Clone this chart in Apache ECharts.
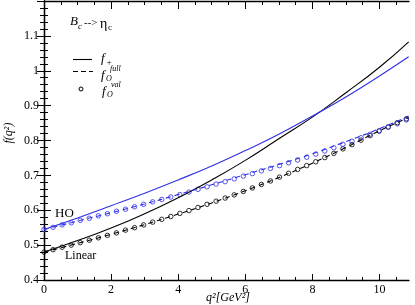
<!DOCTYPE html>
<html>
<head>
<meta charset="utf-8">
<script src="https://cdn.jsdelivr.net/npm/echarts@6/dist/echarts.min.js"></script>
<style>html,body{margin:0;padding:0;background:#fff}#c{width:415px;height:305px}</style>
</head>
<body>
<div id="c"></div>
<script>
// ---- data ----
const X_MAX = 10.88;
const xMajorTicks = [0, 2, 4, 6, 8, 10];
const xMinorTicks = [0.5, 1, 1.5, 2.5, 3, 3.5, 4.5, 5, 5.5, 6.5, 7, 7.5, 8.5, 9, 9.5, 10.5];
const yTickLabels = ['0.4', '0.5', '0.6', '0.7', '0.8', '0.9', '1', '1.1'];

// smooth curves sampled at q^2
const qLine = [0, 1, 2, 3, 4, 5, 6, 7, 8, 9, 10, 10.87];
const fPlusLinear = [0.480, 0.513, 0.549, 0.590, 0.636, 0.687, 0.743, 0.805, 0.867, 0.937, 1.010, 1.083];
const fPlusHO     = [0.545, 0.578, 0.613, 0.649, 0.687, 0.727, 0.771, 0.818, 0.870, 0.925, 0.985, 1.040];
const f0FullLinear = [0.480, 0.505, 0.531, 0.559, 0.589, 0.621, 0.656, 0.694, 0.735, 0.780, 0.828, 0.866];
const f0FullHO     = [0.545, 0.569, 0.593, 0.618, 0.645, 0.673, 0.702, 0.731, 0.762, 0.797, 0.834, 0.870];

// open-circle points
const qPts = [0.00, 0.27, 0.54, 0.81, 1.08, 1.35, 1.62, 1.89, 2.16, 2.43, 2.70, 2.97, 3.24, 3.51, 3.78, 4.05, 4.32, 4.59, 4.86, 5.13, 5.40, 5.67, 5.94, 6.21, 6.48, 6.75, 7.02, 7.29, 7.56, 7.83, 8.10, 8.37, 8.64, 8.91, 9.18, 9.45, 9.72, 9.99, 10.26, 10.53, 10.80];
const f0ValLinear = [0.480, 0.487, 0.494, 0.500, 0.507, 0.514, 0.521, 0.528, 0.535, 0.543, 0.550, 0.558, 0.566, 0.574, 0.582, 0.591, 0.599, 0.608, 0.617, 0.626, 0.635, 0.644, 0.654, 0.664, 0.674, 0.684, 0.695, 0.706, 0.717, 0.728, 0.739, 0.751, 0.763, 0.776, 0.788, 0.801, 0.814, 0.827, 0.839, 0.851, 0.862];
const f0ValHO     = [0.545, 0.551, 0.558, 0.564, 0.571, 0.577, 0.584, 0.590, 0.597, 0.603, 0.610, 0.617, 0.624, 0.631, 0.638, 0.645, 0.652, 0.660, 0.667, 0.675, 0.682, 0.690, 0.698, 0.705, 0.713, 0.720, 0.728, 0.736, 0.744, 0.752, 0.761, 0.770, 0.779, 0.789, 0.798, 0.808, 0.818, 0.828, 0.838, 0.848, 0.859];

// ---- chart ----
const BLUE = '#2f2fe6';
const SERIF = 'Liberation Serif';
const pair = (xs, ys) => xs.map((x, i) => [x, ys[i]]);

function xAx(position, ticks, len, withLabel, showLine) {
  return {
    type: 'value', position: position, min: 0, max: X_MAX,
    axisLine: { show: showLine, lineStyle: { color: '#000', width: 1.3 } },
    axisTick: { show: true, inside: true, length: len, customValues: ticks, lineStyle: { color: '#000', width: 1 } },
    axisLabel: withLabel ? { show: true, customValues: xMajorTicks, margin: 4, color: '#000', fontFamily: SERIF, fontSize: 12 } : { show: false },
    splitLine: { show: false }
  };
}
function yAx(position, withLabel) {
  return {
    type: 'value', position: position, min: 0.4, max: 1.2, interval: 0.1,
    axisLine: { show: true, lineStyle: { color: '#000', width: 1.3 } },
    axisTick: { show: true, inside: true, length: 7, lineStyle: { color: '#000', width: 1 } },
    minorTick: { show: true, splitNumber: 5, length: 4, lineStyle: { color: '#000', width: 1 } },
    axisLabel: withLabel ? {
      show: true, margin: 5, color: '#000', fontFamily: SERIF, fontSize: 12,
      formatter: function (v) {
        const idx = Math.round((v - 0.4) * 10);
        return (idx >= 0 && idx < yTickLabels.length) ? yTickLabels[idx] : '';
      }
    } : { show: false },
    splitLine: { show: false }, minorSplitLine: { show: false }
  };
}

const chart = echarts.init(document.getElementById('c'), null, { renderer: 'canvas' });
const txt = (x, y, text, size, opts) => Object.assign({
  type: 'text', x: x, y: y,
  style: Object.assign({ text: text, fill: '#000', font: (opts && opts.italic ? 'italic ' : '') + size + 'px "' + SERIF + '"', textVerticalAlign: 'middle' }, opts && opts.style)
}, opts && opts.extra);

chart.setOption({
  animation: false,
  backgroundColor: '#fff',
  grid: { left: 44, right: 6, top: 1, bottom: 25 },
  xAxis: [
    xAx('bottom', xMajorTicks, 6, true, true),
    xAx('bottom', xMinorTicks, 3, false, false),
    xAx('top', xMajorTicks, 8, false, true),
    xAx('top', xMinorTicks, 4, false, false)
  ],
  yAxis: [yAx('left', true), yAx('right', false)],
  series: [
    { type: 'line', name: 'f+ linear', data: pair(qLine, fPlusLinear), smooth: true, showSymbol: false, lineStyle: { color: '#000', width: 1.1 }, xAxisIndex: 0, yAxisIndex: 0 },
    { type: 'line', name: 'f+ HO', data: pair(qLine, fPlusHO), smooth: true, showSymbol: false, lineStyle: { color: BLUE, width: 1.1 }, xAxisIndex: 0, yAxisIndex: 0 },
    { type: 'line', name: 'f0 full linear', data: pair(qLine, f0FullLinear), smooth: true, showSymbol: false, lineStyle: { color: '#000', width: 1.1, type: [5, 4] }, xAxisIndex: 0, yAxisIndex: 0 },
    { type: 'line', name: 'f0 full HO', data: pair(qLine, f0FullHO), smooth: true, showSymbol: false, lineStyle: { color: BLUE, width: 1.1, type: [5, 4] }, xAxisIndex: 0, yAxisIndex: 0 },
    { type: 'scatter', name: 'f0 val linear', data: pair(qPts, f0ValLinear), symbol: 'circle', symbolSize: 4.5, itemStyle: { color: 'rgba(0,0,0,0)', borderColor: '#000', borderWidth: 1 }, xAxisIndex: 0, yAxisIndex: 0 },
    { type: 'scatter', name: 'f0 val HO', data: pair(qPts, f0ValHO), symbol: 'circle', symbolSize: 4.5, itemStyle: { color: 'rgba(0,0,0,0)', borderColor: BLUE, borderWidth: 1 }, xAxisIndex: 0, yAxisIndex: 0 }
  ],
  graphic: [
    // title  B_c --> eta_c
    txt(70, 22, 'B', 13, { italic: true }),
    txt(78, 27, 'c', 9, { italic: true }),
    txt(84, 23, '-->', 11),
    txt(100, 24, 'η', 14),
    txt(108, 28, 'c', 9),
    // legend keys
    { type: 'line', shape: { x1: 73, y1: 59.5, x2: 92, y2: 59.5 }, style: { stroke: '#000', lineWidth: 1.1 } },
    { type: 'line', shape: { x1: 73, y1: 71.5, x2: 93, y2: 71.5 }, style: { stroke: '#000', lineWidth: 1.1, lineDash: [5, 3] } },
    { type: 'circle', shape: { cx: 81, cy: 89, r: 2 }, style: { stroke: '#000', fill: 'none', lineWidth: 1 } },
    // legend labels
    txt(101, 59, 'f', 13, { italic: true }),
    txt(106, 63, '+', 9, { italic: true }),
    txt(101, 76, 'f', 13, { italic: true }),
    txt(106, 79, 'O', 8, { italic: true }),
    txt(110, 69, 'full', 8, { italic: true }),
    txt(102, 92, 'f', 13, { italic: true }),
    txt(107, 95, 'O', 8, { italic: true }),
    txt(111, 85, 'val', 8, { italic: true }),
    // curve annotations
    txt(55, 214, 'HO', 13),
    txt(65, 256, 'Linear', 12),
    // axis names
    txt(9, 133, 'f(q²)', 12, { italic: true, style: { textAlign: 'center' }, extra: { rotation: Math.PI / 2 } }),
    txt(228, 298, 'q²[GeV²]', 12, { italic: true, style: { textAlign: 'center' } })
  ]
});
</script>
</body>
</html>
